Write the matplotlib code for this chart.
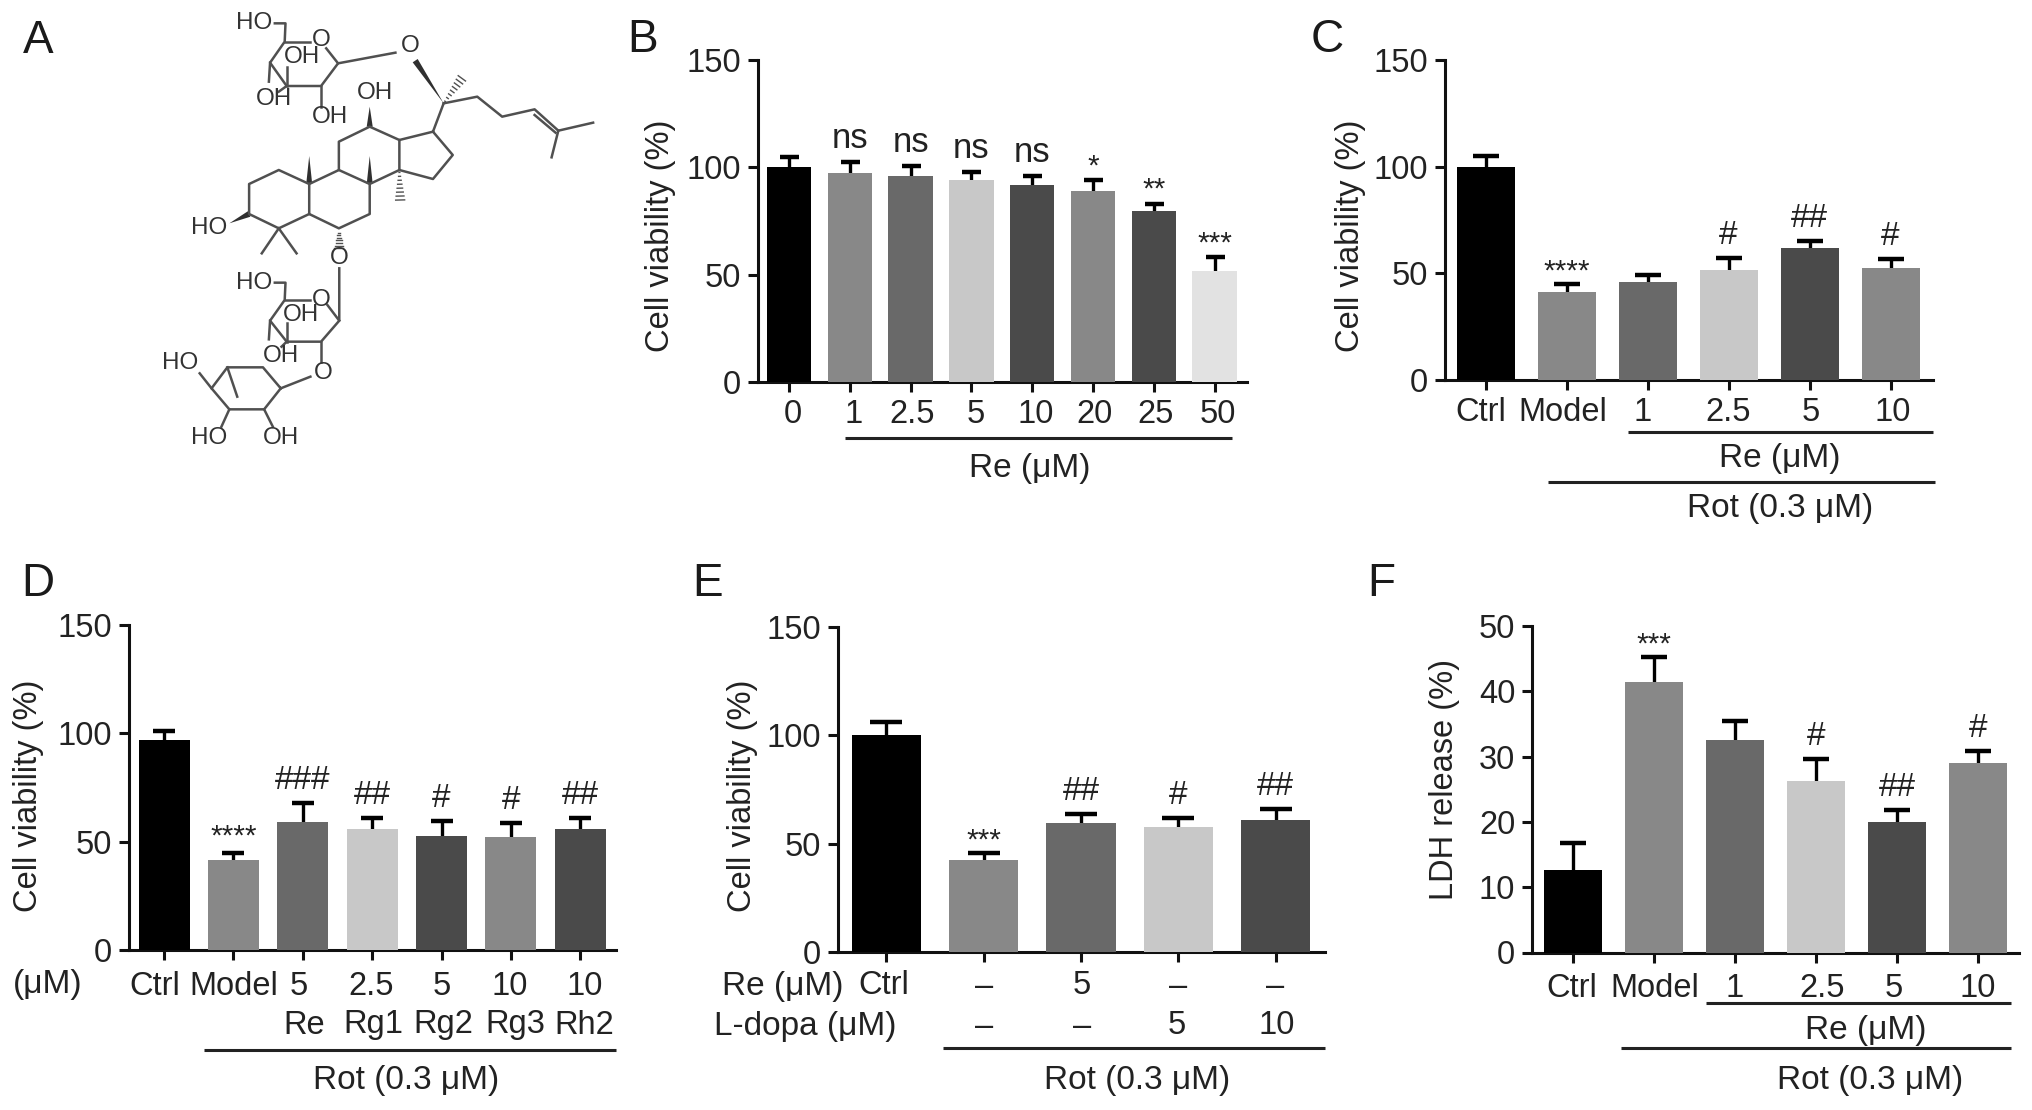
import numpy as np
import matplotlib
matplotlib.use('Agg')
import matplotlib.pyplot as plt
from matplotlib.patches import Polygon
from matplotlib.transforms import ScaledTranslation

plt.rcParams['font.family'] = ['Liberation Sans', 'DejaVu Sans']

BLACK, MID, DARK, LIGHT, DEEP, PALE = '#000000', '#888888', '#696969', '#c8c8c8', '#4a4a4a', '#e2e2e2'
TEXT = '#222222'

# panel B
b_labels = ['0', '1', '2.5', '5', '10', '20', '25', '50']
b_means = [100, 97.5, 96, 94, 92, 89, 79.5, 51.5]
b_sem = [5, 5, 4.5, 4, 4, 5, 3.5, 6.5]
b_sig = ['', 'ns', 'ns', 'ns', 'ns', '*', '**', '***']

# panel C
c_labels = ['Ctrl', 'Model', '1', '2.5', '5', '10']
c_means = [100, 41.2, 45.8, 51.5, 61.7, 52.5]
c_sem = [5, 3.6, 3.6, 5.5, 3.4, 4]
c_sig = ['', '****', '', '#', '##', '#']

# panel D
d_labels = ['Ctrl', 'Model', '5', '2.5', '5', '10', '10']
d_drugs = ['Re', 'Rg1', 'Rg2', 'Rg3', 'Rh2']
d_means = [97, 41.4, 59.2, 55.7, 52.8, 52.2, 55.7]
d_sem = [4, 3.6, 8.8, 5.3, 6.8, 6.3, 5.3]
d_sig = ['', '****', '###', '##', '#', '#', '##']

# panel E
e_row1 = ['Ctrl', '–', '5', '–', '–']
e_row2 = ['–', '–', '5', '10']
e_means = [100.3, 42.4, 59.4, 57.5, 60.8]
e_sem = [6, 3.2, 4.4, 4.2, 5.4]
e_sig = ['', '***', '##', '#', '##']

# panel F
f_labels = ['Ctrl', 'Model', '1', '2.5', '5', '10']
f_means = [12.7, 41.4, 32.6, 26.2, 20, 29]
f_sem = [4, 3.9, 2.8, 3.5, 1.8, 1.9]
f_sig = ['', '***', '', '#', '##', '#']

# structure in panel A, traced in crop coordinates
mol_bonds = [
    [(695, 70), (722, 70), (720, 125), (683, 188), (725, 258), (812, 258), (855, 190), (825, 145)],
    [(720, 125), (785, 125)], [(683, 188), (680, 245)], [(725, 258), (725, 200)], [(725, 258), (705, 275)],
    [(812, 258), (812, 320)], [(855, 190), (1000, 158)],
    [(1122, 310), (1207, 290), (1270, 350), (1352, 328), (1412, 392), (1500, 368)],
    [(1412, 392), (1395, 472)], [(1352, 345), (1405, 398)], [(1122, 310), (1095, 395)],
    [(1095, 395), (1010, 420), (1010, 510), (1095, 537), (1145, 465), (1095, 395)],
    [(1010, 420), (935, 380), (857, 425), (857, 510), (935, 552), (1010, 510)],
    [(857, 510), (782, 552), (782, 642), (857, 685), (935, 642), (935, 552)],
    [(782, 552), (705, 510), (630, 552), (630, 642), (705, 685), (782, 642)],
    [(705, 685), (662, 760)], [(705, 685), (750, 760)],
    [(858, 805), (858, 962), (828, 915)],
    [(695, 848), (722, 848), (720, 900), (683, 962), (725, 1025), (812, 1025), (858, 962)],
    [(720, 900), (785, 900)], [(683, 962), (680, 1018)], [(725, 1025), (725, 970)], [(725, 1025), (712, 1040)],
    [(812, 1025), (812, 1085)], [(785, 1130), (710, 1165)],
    [(710, 1165), (665, 1102), (575, 1102), (535, 1165), (580, 1228), (668, 1228), (710, 1165)],
    [(575, 1102), (600, 1190)], [(535, 1165), (505, 1120)], [(580, 1228), (560, 1280)], [(668, 1228), (690, 1280)],
]
mol_wedges = [
    [(1050, 182), (1122, 310)], [(935, 380), (935, 320)], [(782, 552), (782, 468)],
    [(935, 552), (935, 468)], [(630, 642), (580, 670)],
]
mol_hashes = [[(1122, 310), (1168, 235)], [(1010, 510), (1012, 600)], [(857, 685), (857, 745)]]
mol_atoms = [
    ('HO', 643, 68), ('O', 812, 120), ('OH', 765, 172), ('OH', 692, 298), ('OH', 835, 350),
    ('O', 1038, 138), ('OH', 948, 280), ('HO', 530, 685), ('O', 858, 775),
    ('HO', 643, 850), ('O', 812, 900), ('OH', 760, 945), ('OH', 710, 1068), ('O', 818, 1118),
    ('HO', 455, 1088), ('HO', 530, 1315), ('OH', 710, 1315),
]

fig = plt.figure(figsize=(20.32, 11.1), dpi=100)
W, H = 2032, 1110

over = fig.add_axes([0, 0, 1, 1])
over.set_xlim(0, W)
over.set_ylim(H, 0)
over.axis('off')


def put(x, y, s, size=23.5, **kw):
    over.text(x, y, s, fontsize=size, color=kw.pop('color', TEXT), ha=kw.pop('ha', 'center'), va='center', **kw)


def rule(x0, x1, y):
    over.plot([x0, x1], [y, y], color='#222222', lw=2.2, solid_capstyle='butt')


def panel(left, right, y0, ytop, c0, step, width, capw, means, sem, colors, sig, sig_gap, star_gap,
          labels=None, dx=None, ymax=150, yticks=(0, 50, 100, 150), ylabel='Cell viability (%)', ylabel_xy=None,
          xpad=5.5):
    ax = fig.add_axes([left / W, 1 - y0 / H, (right - left) / W, (y0 - ytop) / H])
    ax.patch.set_alpha(0)
    x = np.arange(len(means))
    means = np.array(means)
    tops = means + np.array(sem)
    ax.vlines(x, means, tops, color='black', lw=2.4, zorder=2)
    ax.plot(x, tops, ls='', marker='_', ms=capw * 0.72, mew=3.2, color='black', zorder=2)
    ax.bar(x, means, width / step, color=colors, zorder=3)
    ax.set_xlim((left - c0) / step, (right - c0) / step)
    ax.set_ylim(0, ymax)
    ax.set_yticks(yticks)
    for s in ['top', 'right']:
        ax.spines[s].set_visible(False)
    for s in ['left', 'bottom']:
        ax.spines[s].set_linewidth(2.2)
        ax.spines[s].set_color('#111111')
    ax.tick_params(axis='both', length=7, width=2.2, color='#111111', labelsize=23.5, labelcolor=TEXT, pad=5)
    ax.tick_params(axis='x', pad=xpad)
    ax.set_xticks(x)
    if labels is None:
        ax.set_xticklabels([])
    else:
        ax.set_xticklabels(labels)
        for lab, d in zip(ax.get_xticklabels(), dx):
            lab.set_transform(lab.get_transform() + ScaledTranslation(d / 100, 0, fig.dpi_scale_trans))
    for xi, t, s in zip(x, tops, sig):
        if not s:
            continue
        star = s.startswith('*')
        size = 21.5 if star else (25 if s == 'ns' else 24)
        ax.annotate(s, (xi, t), xytext=(0, star_gap if star else sig_gap), textcoords='offset pixels',
                    ha='center', va='bottom', fontsize=size, color=TEXT, zorder=5)
    put(ylabel_xy[0], ylabel_xy[1], ylabel, rotation=90, size=23.5)
    return ax


# panel A
def mx(v):
    return v / 2.529


def my(v):
    return v / 3


for path in mol_bonds:
    over.plot([mx(p[0]) for p in path], [my(p[1]) for p in path], color='#505050', lw=1.8, solid_joinstyle='round')
for (a, b) in mol_wedges:
    ax_, ay_, bx_, by_ = mx(a[0]), my(a[1]), mx(b[0]), my(b[1])
    n = np.array([by_ - ay_, ax_ - bx_], dtype=float)
    n = n / np.hypot(*n) * 3
    over.add_patch(Polygon([(bx_, by_), (ax_ + n[0], ay_ + n[1]), (ax_ - n[0], ay_ - n[1])], color='#303030', lw=0))
for (a, b) in mol_hashes:
    ax_, ay_, bx_, by_ = mx(a[0]), my(a[1]), mx(b[0]), my(b[1])
    n = np.array([by_ - ay_, ax_ - bx_], dtype=float)
    n = n / np.hypot(*n)
    for f in np.linspace(0.08, 1, 8):
        cx, cy = ax_ + (bx_ - ax_) * f, ay_ + (by_ - ay_) * f
        hw = 4.5 * f
        over.plot([cx - n[0] * hw, cx + n[0] * hw], [cy - n[1] * hw, cy + n[1] * hw], color='#505050', lw=1)
for s, ax_, ay_ in mol_atoms:
    over.text(mx(ax_), my(ay_), s, fontsize=17.5, color='#333333', ha='center', va='center')

# panel letters
for s, x, y in [('A', 38, 41), ('B', 643, 40), ('C', 1327, 40), ('D', 38, 584), ('E', 708, 584), ('F', 1381, 584)]:
    put(x, y, s, size=33, color='#1a1a1a')

panel(758, 1247, 382, 60, 789, 60.8, 44.5, 19, b_means, b_sem,
      [BLACK, MID, DARK, LIGHT, DEEP, MID, DEEP, PALE], b_sig, 7, 0,
      b_labels, [4, 4, 2, 4, 3, 2, 2, 3], ylabel_xy=(661, 236))
rule(845, 1232, 438)
put(1030, 469, 'Re (μM)', size=24)

panel(1445, 1933, 380, 60, 1485.6, 81, 58, 27, c_means, c_sem,
      [BLACK, MID, DARK, LIGHT, DEEP, MID], c_sig, 7, -1,
      c_labels, [-5, -4, -5, 0, 1, 2], ylabel_xy=(1351, 236))
rule(1628, 1933, 432)
put(1780, 459, 'Re (μM)', size=24)
rule(1548, 1935, 482)
put(1780, 509, 'Rot (0.3 μM)', size=24)

panel(129, 616, 950, 625, 164, 69.4, 51, 23, d_means, d_sem,
      [BLACK, MID, DARK, LIGHT, DEEP, MID, DEEP], d_sig, 7, 2,
      d_labels, [-9, 0, -4, -1, 0, -1, 4], ylabel_xy=(29, 796), xpad=8)
put(48, 985, '(μM)', size=24)
for s, x in zip(d_drugs, [304, 373.5, 443, 515, 584]):
    put(x, 1025, s)
rule(204, 616, 1050)
put(406, 1080, 'Rot (0.3 μM)', size=24)

panel(838, 1325, 952, 627, 886.4, 97.3, 69.5, 32, e_means, e_sem,
      [BLACK, MID, DARK, LIGHT, DEEP], e_sig, 7, -1, ylabel_xy=(742, 796))
put(783, 986, 'Re (μM)', size=24)
put(805, 1026, 'L-dopa (μM)', size=24)
for s, x in zip(e_row1, [884, 984, 1082, 1178, 1275.5]):
    put(x, 986, s)
for s, x in zip(e_row2, [984, 1082, 1177, 1277]):
    put(x, 1026, s)
rule(943, 1325, 1048)
put(1137, 1080, 'Rot (0.3 μM)', size=24)

panel(1532, 2019, 952.5, 626, 1573, 81, 58.7, 26.5, f_means, f_sem,
      [BLACK, MID, DARK, LIGHT, DEEP, MID], f_sig, 7, -2,
      f_labels, [-1, 1, 0, 6, -3, 0], ymax=50, yticks=(0, 10, 20, 30, 40, 50),
      ylabel='LDH release (%)', ylabel_xy=(1444, 780), xpad=8)
rule(1706, 2011, 1003)
put(1866, 1031, 'Re (μM)', size=24)
rule(1621, 2011, 1048)
put(1870, 1080, 'Rot (0.3 μM)', size=24)

fig.savefig('out.png', dpi=100)
